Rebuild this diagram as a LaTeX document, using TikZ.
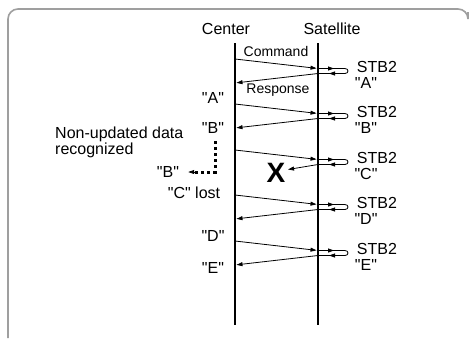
\documentclass[tikz,border=0pt]{standalone}
\usepackage{fontspec}
\setmainfont{Liberation Sans}
\usetikzlibrary{arrows.meta,decorations.markings}
\newcommand\qt[1]{\textquotedbl#1\textquotedbl}

\begin{document}
\begin{tikzpicture}[x=1pt,y=-1pt]
	\tikzstyle{lbl} = [font=\fontsize{16}{14}\selectfont, inner sep=0pt]
	\tikzstyle{msg} = [font=\fontsize{14}{15}\selectfont, inner sep=0pt]
	\tikzstyle{lifeline} = [line width=2.2pt]
	\tikzstyle{tip} = [-{Triangle[length=6pt,width=4pt]}]
	\tikzstyle{edge} = [line width=0.8pt, tip, shorten >=1.5pt]
	\tikzstyle{loopback} = [line width=0.8pt, postaction=decorate,
		decoration={markings,
			mark=at position 16pt with {\arrow{Triangle[length=6pt,width=4pt]}},
			mark=at position -11pt with {\arrow{Triangle[length=6pt,width=4pt]}}}]
	\tikzstyle{pending} = [line width=3pt, dash pattern=on 3pt off 3pt]
	\def\cx{235}
	\def\sx{318}

	\useasboundingbox (0,0) rectangle (470,338);
	\draw[gray!75, line width=1.6pt, rounded corners=10pt] (8,338) -- (8,9) -- (468,9) -- (468,12);

	% the two stations
	\node[lbl] (center) at (226,29) {Center};
	\node[lbl] (satellite) at (332,29) {Satellite};
	\coordinate (ctop) at (\cx,43);
	\coordinate (cbot) at (\cx,325);
	\coordinate (stop) at (\sx,43);
	\coordinate (sbot) at (\sx,325);
	\draw[lifeline] (ctop) -- (cbot);
	\draw[lifeline] (stop) -- (sbot);

	\node[msg] (command) at (276,51) {Command};
	\node[msg] (response) at (278,90) {Response};

	% one polling cycle per STB2 answer
	\foreach \i/\y/\q in {1/59/A, 2/104/B, 3/150/C, 4/195/D, 5/241/E} {
		\coordinate (c\i) at (\cx,\y);
		\coordinate (s\i) at (\sx,\y+9.5);
		\coordinate (m\i) at (\sx,\y+14.5);
		\coordinate (r\i) at (\cx,\y+24);
		\node[lbl] (stb\i) at (377,\y+8) {STB2};
		\node[lbl] (ans\i) at (366,\y+24) {\qt{\q}};
		\draw[edge] (c\i) -- (s\i);
		\draw[loopback] (s\i) -- ++(27,0) .. controls +(4,0) and +(4,0) .. ++(0,5) -- (m\i);
	}
	\foreach \i in {1,2,4,5}
		\draw[edge] (m\i) -- (r\i);

	% third answer never arrives
	\node[font=\bfseries\fontsize{28}{28}\selectfont, inner sep=0pt] (lost) at (276,173) {X};
	\coordinate (lostend) at (288,169.5);
	\draw[line width=0.8pt, tip] (m3) -- (lostend);

	% what the center received
	\node[lbl] (gotA) at (213,98) {\qt{A}};
	\node[lbl] (gotB) at (213,128) {\qt{B}};
	\node[lbl] (gotD) at (213,236) {\qt{D}};
	\node[lbl] (gotE) at (213,268) {\qt{E}};
	\node[lbl] (lostC) at (194,193) {\qt{C} lost};
	\node[lbl, anchor=west, align=left] (nonupd) at (55,142) {Non-updated data\\recognized};

	\node[lbl] (keptB) at (168,172) {\qt{B}};
	\coordinate (dtop) at (215,141);
	\coordinate (dturn) at (215,172);
	\draw[pending] (dtop) -- (dturn) -- ([xshift=14pt]keptB.east);
	\draw[line width=0.8pt, tip] ([xshift=16pt]keptB.east) -- ([xshift=9pt]keptB.east);
\end{tikzpicture}
\end{document}
